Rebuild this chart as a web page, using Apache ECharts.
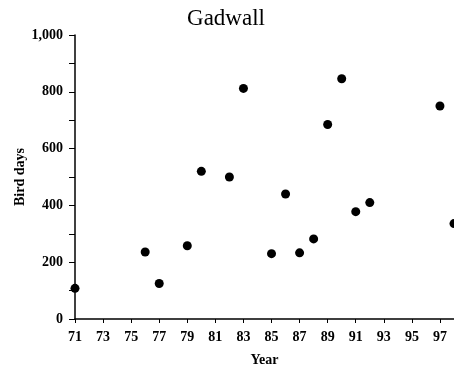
<!DOCTYPE html>
<html><head><meta charset="utf-8">
<script src="https://cdn.jsdelivr.net/npm/echarts@6/dist/echarts.min.js"></script>
<style>html,body{margin:0;padding:0;background:#fff}#c{width:454px;height:373px}</style>
</head><body><div id="c"></div>
<script>
const years = [71, 76, 77, 79, 80, 82, 83, 85, 86, 87, 88, 89, 90, 91, 92, 97, 98];
const birdDays = [108, 236, 125, 258, 520, 500, 812, 230, 440, 233, 282, 685, 846, 378, 410, 750, 336];
const xTicks = [71, 73, 75, 77, 79, 81, 83, 85, 87, 89, 91, 93, 95, 97];
const yTicks = [0, 200, 400, 600, 800, 1000];

const font = 'Liberation Serif, DejaVu Serif, serif';
const chart = echarts.init(document.getElementById('c'));
chart.setOption({
  animation: false,
  title: {
    text: 'Gadwall', left: 221, top: 2, textAlign: 'center',
    textStyle: {fontFamily: font, fontSize: 23, fontWeight: 'normal', color: '#000'}
  },
  grid: {left: 75, right: 0, top: 35, bottom: 54, containLabel: false, outerBoundsMode: 'none'},
  xAxis: {
    type: 'value', min: 71, max: 98,
    name: 'Year', nameLocation: 'middle', nameGap: 34, nameMoveOverlap: false,
    nameTextStyle: {fontFamily: font, fontSize: 14, fontWeight: 'bold', color: '#000'},
    axisLine: {show: true, onZero: false, lineStyle: {color: '#000', width: 1.5}},
    axisTick: {show: true, length: 4, customValues: xTicks, lineStyle: {color: '#000', width: 1}},
    axisLabel: {customValues: xTicks, fontFamily: font, fontSize: 14, fontWeight: 'bold', color: '#000', margin: 11},
    splitLine: {show: false}
  },
  yAxis: {
    type: 'value', min: 0, max: 1000, interval: 100,
    name: 'Bird days', nameLocation: 'middle', nameGap: 48, nameRotate: 90, nameMoveOverlap: false,
    nameTextStyle: {fontFamily: font, fontSize: 14, fontWeight: 'bold', color: '#000'},
    axisLine: {show: true, lineStyle: {color: '#000', width: 1.5}},
    axisTick: {show: true, length: 6, lineStyle: {color: '#000', width: 1}},
    axisLabel: {
      fontFamily: font, fontSize: 14, fontWeight: 'bold', color: '#000', margin: 12,
      formatter: v => yTicks.includes(v) ? v.toLocaleString('en-US') : ''
    },
    splitLine: {show: false}
  },
  series: [{
    type: 'scatter', symbol: 'circle', symbolSize: 9, clip: true,
    itemStyle: {color: '#000', opacity: 1},
    data: years.map((y, i) => [y, birdDays[i]])
  }]
});
</script></body></html>
